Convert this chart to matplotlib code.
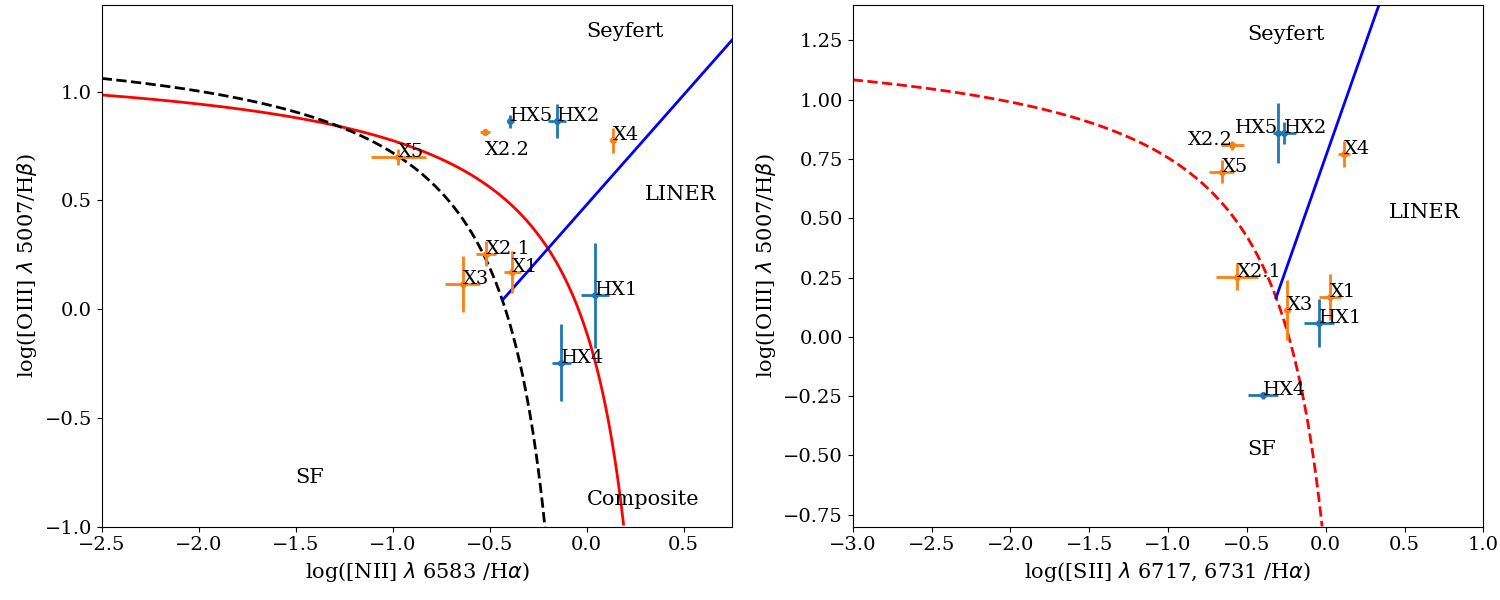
import numpy as np
import matplotlib
matplotlib.use("Agg")
import matplotlib.pyplot as plt

plt.rcParams['font.family'] = ['DejaVu Serif']
plt.rcParams['font.size'] = 15
plt.rcParams['xtick.labelsize'] = 14
plt.rcParams['ytick.labelsize'] = 14
plt.rcParams['axes.labelsize'] = 15

names_x = ["X1", "X2.1", "X2.2", "X3", "X4", "X5"]
names_hx = ["HX1", "HX2", "HX4", "HX5"]

# [NII]/Ha panel
nii_x = [-0.383, -0.519, -0.524, -0.639, 0.134, -0.971]
nii_x_xerr = [0.043, 0.052, 0.024, 0.089, 0.015, 0.142]
oiii_x = [0.171, 0.255, 0.814, 0.117, 0.776, 0.701]
oiii_x_yerr_n = [0.097, 0.057, 0.014, 0.128, 0.059, 0.036]

nii_hx = [0.043, -0.155, -0.131, -0.394]
nii_hx_xerr = [0.072, 0.046, 0.048, 0.019]
oiii_hx = [0.063, 0.866, -0.246, 0.863]
oiii_hx_yerr_n = [0.241, 0.079, 0.178, 0.028]

# [SII]/Ha panel
sii_x = [0.027, -0.561, -0.592, -0.247, 0.116, -0.660]
sii_x_xerr = [0.070, 0.132, 0.071, 0.020, 0.040, 0.081]
oiii_x_s = [0.167, 0.254, 0.808, 0.114, 0.771, 0.696]
oiii_x_yerr_s = [0.098, 0.058, 0.019, 0.126, 0.056, 0.048]

sii_hx = [-0.042, -0.262, -0.400, -0.304]
sii_hx_xerr = [0.097, 0.074, 0.095, 0.015]
oiii_hx_s = [0.058, 0.859, -0.247, 0.859]
oiii_hx_yerr_s = [0.100, 0.046, 0.015, 0.127]

# demarcation lines (Kewley 01, Kauffmann 03, Cid Fernandes 10, Kewley 06)
ke01_nii = (0.61, 0.47, 1.19)
ka03_nii = (0.61, 0.05, 1.30)
cf10_nii = (1.01, 0.48)
ke01_sii = (0.72, 0.32, 1.30)
ke06_sii = (1.89, 0.76)

LBL = 14  # point label size


def hyper(x, p):
    return p[0] / (x - p[1]) + p[2]


fig = plt.figure(figsize=(15, 6), dpi=100)
ax1 = fig.add_axes([0.0678, 0.1222, 0.4203, 0.8701])
ax2 = fig.add_axes([0.5685, 0.1222, 0.4204, 0.8701])

# ---------------- left: NII ----------------
xx = np.linspace(-2.5, 0.19, 400)
ax1.plot(xx, hyper(xx, ke01_nii), color='red', lw=2)
xx = np.linspace(-2.5, -0.215, 400)
ax1.plot(xx, hyper(xx, ka03_nii), color='black', lw=2, ls='--')
xx = np.array([-0.43, 0.75])
ax1.plot(xx, cf10_nii[0] * xx + cf10_nii[1], color='blue', lw=2)

ax1.errorbar(nii_hx, oiii_hx, xerr=nii_hx_xerr, yerr=oiii_hx_yerr_n,
             fmt='o', ms=4, elinewidth=2, color='C0')
ax1.errorbar(nii_x, oiii_x, xerr=nii_x_xerr, yerr=oiii_x_yerr_n,
             fmt='o', ms=4, elinewidth=2, color='C1')

for n, x, y in zip(names_hx, nii_hx, oiii_hx):
    ax1.text(x, y, n, fontsize=LBL)
for n, x, y in zip(names_x, nii_x, oiii_x):
    if n == "X2.2":
        ax1.text(x, y - 0.04, n, va='top', fontsize=LBL)
    else:
        ax1.text(x, y, n, fontsize=LBL)

ax1.text(0.0, 1.25, "Seyfert")
ax1.text(0.3, 0.5, "LINER")
ax1.text(-1.5, -0.8, "SF")
ax1.text(0.0, -0.9, "Composite")

ax1.set_xlim(-2.5, 0.75)
ax1.set_ylim(-1.0, 1.4)
ax1.set_xticks([-2.5, -2.0, -1.5, -1.0, -0.5, 0.0, 0.5])
ax1.set_yticks([-1.0, -0.5, 0.0, 0.5, 1.0])
ax1.set_xlabel(r"log([NII] $\lambda$ 6583 /H$\alpha$)")
ax1.set_ylabel(r"log([OIII] $\lambda$ 5007/H$\beta$)")

# ---------------- right: SII ----------------
xx = np.linspace(-3.0, -0.023, 400)
ax2.plot(xx, hyper(xx, ke01_sii), color='red', lw=2, ls='--')
xx = np.array([-0.315, 0.34])
ax2.plot(xx, ke06_sii[0] * xx + ke06_sii[1], color='blue', lw=2)

ax2.errorbar(sii_hx, oiii_hx_s, xerr=sii_hx_xerr, yerr=oiii_hx_yerr_s,
             fmt='o', ms=4, elinewidth=2, color='C0')
ax2.errorbar(sii_x, oiii_x_s, xerr=sii_x_xerr, yerr=oiii_x_yerr_s,
             fmt='o', ms=4, elinewidth=2, color='C1')

for n, x, y in zip(names_hx, sii_hx, oiii_hx_s):
    ax2.text(x, y, n, ha='right' if n == "HX5" else 'left', fontsize=LBL)
for n, x, y in zip(names_x, sii_x, oiii_x_s):
    ax2.text(x, y, n, ha='right' if n == "X2.2" else 'left', fontsize=LBL)

ax2.text(-0.5, 1.25, "Seyfert")
ax2.text(0.4, 0.5, "LINER")
ax2.text(-0.5, -0.5, "SF")

ax2.set_xlim(-3.0, 1.0)
ax2.set_ylim(-0.8, 1.4)
ax2.set_yticks([-0.75, -0.5, -0.25, 0.0, 0.25, 0.5, 0.75, 1.0, 1.25])
ax2.set_xlabel(r"log([SII] $\lambda$ 6717, 6731 /H$\alpha$)")
ax2.set_ylabel(r"log([OIII] $\lambda$ 5007/H$\beta$)")

fig.savefig("out.png", dpi=100)
